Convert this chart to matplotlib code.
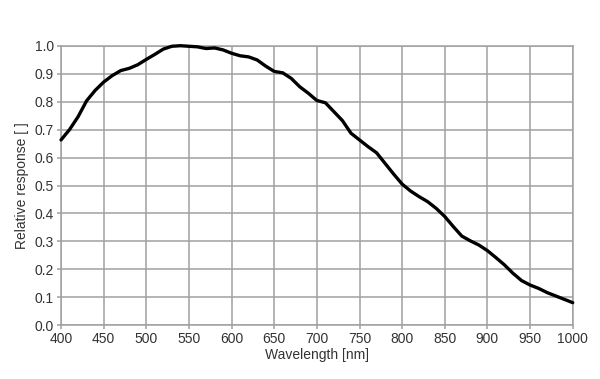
import matplotlib
matplotlib.use("Agg")
from matplotlib import pyplot as plt

# Spectral response curve
wavelength = [400, 410, 420, 430, 440, 450, 460, 470, 480, 490,
              500, 510, 520, 530, 540, 550, 560, 570, 580, 590,
              600, 610, 620, 630, 640, 650, 660, 670, 680, 690,
              700, 710, 720, 730, 740, 750, 760, 770, 780, 790,
              800, 810, 820, 830, 840, 850, 860, 870, 880, 890,
              900, 910, 920, 930, 940, 950, 960, 970, 980, 990, 1000]
response = [0.663, 0.700, 0.746, 0.803, 0.840, 0.870, 0.893, 0.911, 0.919, 0.932,
            0.951, 0.969, 0.988, 0.998, 1.000, 0.998, 0.996, 0.990, 0.992, 0.985,
            0.973, 0.964, 0.960, 0.949, 0.927, 0.908, 0.903, 0.883, 0.853, 0.830,
            0.804, 0.796, 0.764, 0.732, 0.687, 0.663, 0.639, 0.617, 0.579, 0.541,
            0.505, 0.480, 0.460, 0.442, 0.418, 0.389, 0.353, 0.319, 0.302, 0.287,
            0.267, 0.242, 0.216, 0.186, 0.160, 0.144, 0.132, 0.117, 0.105, 0.093, 0.081]

x_ticks = list(range(400, 1001, 50))
y_ticks = [i / 10 for i in range(11)]

plt.rcParams["font.family"] = ["Liberation Sans", "DejaVu Sans"]

fig = plt.figure(figsize=(6, 3.79), dpi=100)
ax = fig.add_axes([0.1017, 0.1417, 0.8528, 0.7377])

ax.plot(wavelength, response, color="black", linewidth=2.4,
        solid_capstyle="round", solid_joinstyle="round", clip_on=False, zorder=3)

ax.set_xlim(400, 1000)
ax.set_ylim(0, 1.0)
ax.set_xticks(x_ticks)
ax.set_yticks(y_ticks)
ax.set_yticklabels([f"{v:.1f}" for v in y_ticks])
ax.grid(True, color="#a0a0a0", linewidth=1.1)
ax.set_axisbelow(True)
for s in ax.spines.values():
    s.set_color("#a0a0a0")
    s.set_linewidth(1.1)
ax.tick_params(colors="#a0a0a0", labelcolor="#333333", labelsize=10,
               length=3, width=1.1, pad=2)

ax.set_xlabel("Wavelength [nm]", fontsize=10, color="#333333", labelpad=1)
ax.set_ylabel("Relative response [ ]", fontsize=10, color="#333333", labelpad=4)

fig.savefig("out.png", dpi=100)
